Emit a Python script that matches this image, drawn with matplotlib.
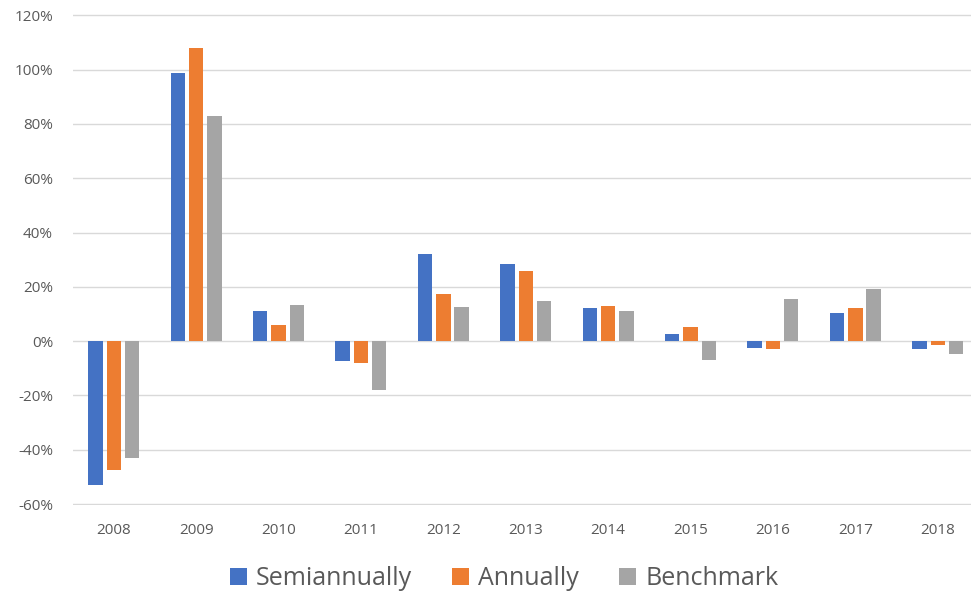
import numpy as np
import matplotlib.pyplot as plt
from matplotlib.ticker import PercentFormatter

plt.rcParams['font.family'] = ['Open Sans', 'DejaVu Sans']
plt.rcParams['axes.unicode_minus'] = False

years = ['2008', '2009', '2010', '2011', '2012', '2013', '2014', '2015', '2016', '2017', '2018']
semiannually = [-52.8, 98.7, 11.0, -7.2, 32.2, 28.4, 12.2, 2.8, -2.4, 10.4, -3.0]
annually = [-47.3, 107.8, 6.0, -8.0, 17.2, 25.7, 13.1, 5.1, -3.0, 12.1, -1.3]
benchmark = [-43.0, 83.0, 13.4, -18.1, 12.7, 14.9, 11.0, -7.0, 15.4, 19.2, -4.9]

series = [
    ('Semiannually', semiannually, '#4472C4'),
    ('Annually', annually, '#ED7D31'),
    ('Benchmark', benchmark, '#A5A5A5'),
]

fig = plt.figure(figsize=(9.71, 5.95), dpi=100)
ax = fig.add_axes([0.0747, 0.151, 0.9335, 0.825])

x = np.arange(len(years))
width = 0.175
step = 0.222
for i, (name, vals, color) in enumerate(series):
    ax.bar(x + (i - 1) * step, vals, width, color=color, label=name, zorder=3)

ax.set_xlim(-0.5, len(years) - 0.5)
ax.set_ylim(-60.4, 120.4)
ax.set_yticks(np.arange(-60, 121, 20))
ax.yaxis.set_major_formatter(PercentFormatter(decimals=0))
ax.set_xticks(x)
ax.set_xticklabels(years)
ax.grid(axis='y', color='#d9d9d9', linewidth=1, zorder=0)
ax.tick_params(length=0, labelsize=11, colors='#595959')
ax.tick_params(axis='y', pad=14)
ax.tick_params(axis='x', pad=13)
for s in ax.spines.values():
    s.set_visible(False)

fig.legend(loc='center', bbox_to_anchor=(0.519, 0.027), ncol=3, frameon=False,
           fontsize=18, handlelength=0.7, handleheight=0.7, handletextpad=0.35,
           columnspacing=1.6, labelcolor='#595959')

fig.savefig('out.png', dpi=100)
